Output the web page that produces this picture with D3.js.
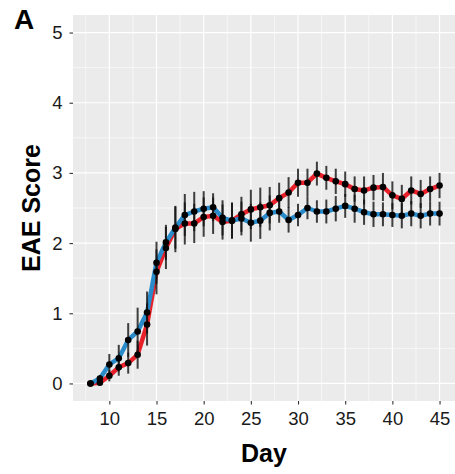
<!DOCTYPE html>
<html>
<head>
<meta charset="utf-8">
<script src="https://cdn.jsdelivr.net/npm/d3@7"></script>
<style>
  body { margin: 0; background: #fff; }
  text { font-family: "Liberation Sans", Arial, sans-serif; }
</style>
</head>
<body>
<script>
// days 8..45
var days = d3.range(8, 46);
var redMean = [0, 0.01, 0.11, 0.23, 0.29, 0.41, 0.84, 1.59, 1.93, 2.2, 2.28, 2.28, 2.37, 2.39, 2.30, 2.32, 2.41, 2.48, 2.51, 2.54, 2.64, 2.72, 2.86, 2.86, 2.99, 2.93, 2.88, 2.84, 2.77, 2.75, 2.79, 2.80, 2.68, 2.63, 2.75, 2.70, 2.77, 2.82];
var redSe = [0, 0.03, 0.08, 0.12, 0.15, 0.2, 0.3, 0.32, 0.3, 0.33, 0.3, 0.28, 0.28, 0.26, 0.25, 0.26, 0.25, 0.28, 0.28, 0.26, 0.22, 0.22, 0.2, 0.2, 0.17, 0.17, 0.18, 0.18, 0.18, 0.2, 0.18, 0.2, 0.2, 0.2, 0.2, 0.2, 0.18, 0.18];
var blueMean = [0, 0.07, 0.27, 0.36, 0.62, 0.74, 1.01, 1.72, 2.01, 2.22, 2.40, 2.45, 2.49, 2.51, 2.36, 2.32, 2.35, 2.29, 2.32, 2.43, 2.45, 2.33, 2.40, 2.50, 2.45, 2.45, 2.49, 2.53, 2.49, 2.44, 2.41, 2.41, 2.40, 2.39, 2.42, 2.39, 2.42, 2.42];
var blueSe = [0, 0.05, 0.15, 0.19, 0.24, 0.34, 0.3, 0.3, 0.25, 0.3, 0.3, 0.28, 0.25, 0.2, 0.25, 0.25, 0.24, 0.27, 0.26, 0.25, 0.16, 0.18, 0.16, 0.16, 0.16, 0.17, 0.18, 0.17, 0.2, 0.18, 0.18, 0.17, 0.17, 0.18, 0.18, 0.18, 0.17, 0.17];
var xTicks = [10, 15, 20, 25, 30, 35, 40, 45];
var yTicks = [0, 1, 2, 3, 4, 5];

var width = 455, height = 474;
var margin = {top: 15, right: -2, bottom: 73, left: 73};
var panelW = width - margin.left - margin.right;
var panelH = height - margin.top - margin.bottom;

var x = d3.scaleLinear().domain([6.15, 46.85]).range([margin.left, margin.left + panelW]);
var y = d3.scaleLinear().domain([-0.25, 5.25]).range([margin.top + panelH, margin.top]);

var svg = d3.select("body").append("svg")
    .attr("width", width)
    .attr("height", height);

svg.append("clipPath").attr("id", "panel")
    .append("rect")
    .attr("x", margin.left).attr("y", margin.top)
    .attr("width", panelW).attr("height", panelH);

var panel = svg.append("g").attr("clip-path", "url(#panel)");
panel.append("rect")
    .attr("x", margin.left).attr("y", margin.top)
    .attr("width", panelW).attr("height", panelH)
    .attr("fill", "#EBEBEB");

//グリッド
var xMinor = d3.range(7.5, 47.6, 5);
var yMinor = d3.range(0.5, 5.1, 1);
panel.selectAll(".xminor").data(xMinor).enter().append("line")
    .attr("x1", function (d) { return x(d); }).attr("x2", function (d) { return x(d); })
    .attr("y1", margin.top).attr("y2", margin.top + panelH)
    .attr("stroke", "#fff").attr("stroke-width", 0.6);
panel.selectAll(".yminor").data(yMinor).enter().append("line")
    .attr("y1", function (d) { return y(d); }).attr("y2", function (d) { return y(d); })
    .attr("x1", margin.left).attr("x2", margin.left + panelW)
    .attr("stroke", "#fff").attr("stroke-width", 0.6);
panel.selectAll(".xmajor").data(xTicks).enter().append("line")
    .attr("x1", function (d) { return x(d); }).attr("x2", function (d) { return x(d); })
    .attr("y1", margin.top).attr("y2", margin.top + panelH)
    .attr("stroke", "#fff").attr("stroke-width", 1.2);
panel.selectAll(".ymajor").data(yTicks).enter().append("line")
    .attr("y1", function (d) { return y(d); }).attr("y2", function (d) { return y(d); })
    .attr("x1", margin.left).attr("x2", margin.left + panelW)
    .attr("stroke", "#fff").attr("stroke-width", 1.2);

//系列
var series = [
  {mean: redMean, se: redSe, color: "#E8202A"},
  {mean: blueMean, se: blueSe, color: "#2A8BCB"}
];
var line = d3.line()
    .x(function (d) { return x(d[0]); })
    .y(function (d) { return y(d[1]); });

series.forEach(function (s) {
  var pts = days.map(function (d, i) { return [d, s.mean[i], s.se[i]]; });
  panel.append("path")
      .datum(pts)
      .attr("d", line)
      .attr("fill", "none")
      .attr("stroke", s.color)
      .attr("stroke-width", 4.5)
      .attr("stroke-linejoin", "round");
});
series.forEach(function (s) {
  var pts = days.map(function (d, i) { return [d, s.mean[i], s.se[i]]; });
  panel.append("g").selectAll("line").data(pts).enter().append("line")
      .attr("x1", function (d) { return x(d[0]); })
      .attr("x2", function (d) { return x(d[0]); })
      .attr("y1", function (d) { return y(d[1] - d[2]); })
      .attr("y2", function (d) { return y(d[1] + d[2]); })
      .attr("stroke", "#111")
      .attr("stroke-opacity", 0.8)
      .attr("stroke-width", 2);
});
series.forEach(function (s) {
  var pts = days.map(function (d, i) { return [d, s.mean[i]]; });
  panel.append("g").selectAll("circle").data(pts).enter().append("circle")
      .attr("cx", function (d) { return x(d[0]); })
      .attr("cy", function (d) { return y(d[1]); })
      .attr("r", 3.3)
      .attr("fill", "#000");
});

//軸
var xAxis = svg.append("g")
    .attr("transform", "translate(0," + (margin.top + panelH) + ")")
    .call(d3.axisBottom(x).tickValues(xTicks).tickSize(3.5).tickPadding(7));
var yAxis = svg.append("g")
    .attr("transform", "translate(" + margin.left + ",0)")
    .call(d3.axisLeft(y).tickValues(yTicks).tickFormat(d3.format("d")).tickSize(3.5).tickPadding(7));
[xAxis, yAxis].forEach(function (a) {
  a.select(".domain").remove();
  a.selectAll(".tick line").attr("stroke", "#333").attr("stroke-width", 1.1);
  a.selectAll(".tick text")
      .attr("fill", "#1a1a1a")
      .attr("font-size", "18.5px")
      .attr("font-family", "Liberation Sans, Arial, sans-serif");
});

svg.append("text")
    .attr("x", margin.left + panelW / 2 - 1)
    .attr("y", 462)
    .attr("text-anchor", "middle")
    .attr("font-size", "25px")
    .attr("font-weight", "bold")
    .text("Day");

svg.append("text")
    .attr("transform", "translate(40," + (y(2.5)) + ") rotate(-90)")
    .attr("text-anchor", "middle")
    .attr("font-size", "25px")
    .attr("font-weight", "bold")
    .text("EAE Score");

svg.append("text")
    .attr("x", 14)
    .attr("y", 29)
    .attr("font-size", "28px")
    .attr("font-weight", "bold")
    .text("A");
</script>
</body>
</html>
